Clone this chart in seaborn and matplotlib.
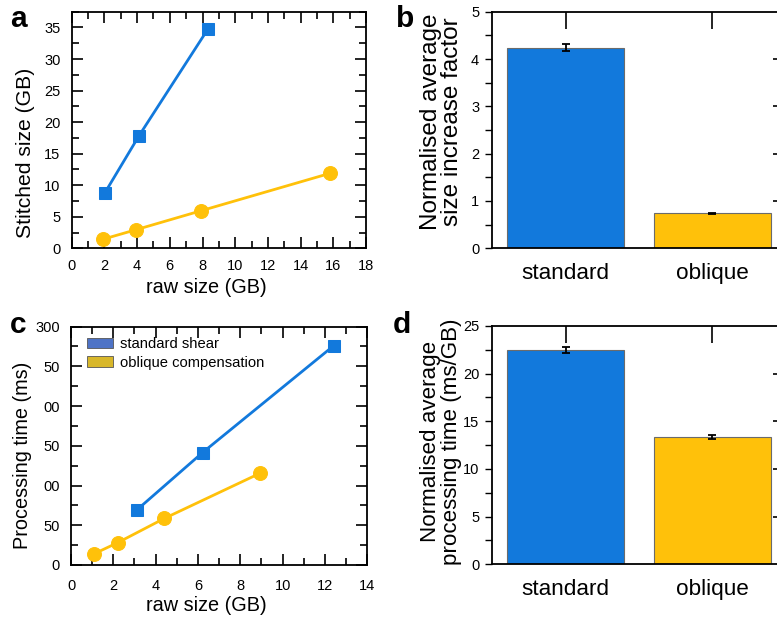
#!/usr/bin/env python3

import numpy as np
import matplotlib
matplotlib.use("Agg")
import matplotlib.pyplot as plt
from matplotlib.patches import Patch
from matplotlib.ticker import MultipleLocator
import seaborn as sns

# --- data ---
# panel a: stitched size vs raw size
raw_std_a = [2.03, 4.12, 8.32]
stitched_std = [8.8, 17.85, 34.7]
raw_obl_a = [1.93, 3.94, 7.91, 15.82]
stitched_obl = [1.45, 2.95, 5.95, 11.9]

# panel b: normalised size increase factor
categories = ["standard", "oblique"]
size_factor = [4.24, 0.745]
size_factor_err = [0.08, 0.01]

# panel c: processing time vs raw size
raw_std_c = [3.1, 6.22, 12.42]
time_std = [69, 141.5, 276]
raw_obl_c = [1.1, 2.2, 4.41, 8.93]
time_obl = [14.2, 28, 58.6, 115.4]
c_yticks = [0, 50, 100, 150, 200, 250, 300]
c_yticklabels = ["0", "50", "00", "50", "00", "50", "300"]

# panel d: normalised processing time
proc_time = [22.48, 13.32]
proc_time_err = [0.35, 0.2]

legend_labels = ["standard shear", "oblique compensation"]

BLUE = "#1279DC"
YELLOW = "#FFC10A"
LEG_BLUE = "#4E73C6"
LEG_YELLOW = "#D8B72A"

sns.set_style("white")
plt.rcParams["font.family"] = ["Liberation Sans", "DejaVu Sans"]
plt.rcParams["text.color"] = "black"
plt.rcParams["axes.labelcolor"] = "black"
plt.rcParams["xtick.color"] = "black"
plt.rcParams["ytick.color"] = "black"
plt.rcParams["axes.edgecolor"] = "black"
plt.rcParams["axes.linewidth"] = 1.3

fig = plt.figure(figsize=(7.77, 6.19), dpi=100)
W, H = 777, 619


def px_axes(left, top, right, bottom):
    return fig.add_axes([left / W, 1 - bottom / H, (right - left) / W, (bottom - top) / H])


ax_a = px_axes(71.7, 11.7, 366, 248.3)
ax_b = px_axes(491.7, 11.7, 781, 248.3)
ax_c = px_axes(71, 326.5, 367.3, 565)
ax_d = px_axes(491.7, 326, 781, 564.3)


def style_line_axes(ax):
    ax.tick_params(which="both", direction="in", top=True, right=True,
                   bottom=True, left=True, labelsize=10.5, pad=8, width=1.2)
    ax.tick_params(which="major", length=8)
    ax.tick_params(which="minor", length=5)


def line_panel(ax, xs1, ys1, xs2, ys2):
    sns.lineplot(x=xs1, y=ys1, ax=ax, color=BLUE, marker="s", markersize=8.5,
                 markeredgecolor=BLUE, linewidth=2)
    sns.lineplot(x=xs2, y=ys2, ax=ax, color=YELLOW, marker="o", markersize=10,
                 markeredgecolor=YELLOW, linewidth=2)


# ---- panel a ----
line_panel(ax_a, raw_std_a, stitched_std, raw_obl_a, stitched_obl)
ax_a.set_xlim(0, 18)
ax_a.set_ylim(0, 37.5)
ax_a.xaxis.set_major_locator(MultipleLocator(2))
ax_a.xaxis.set_minor_locator(MultipleLocator(1))
ax_a.yaxis.set_major_locator(MultipleLocator(5))
ax_a.yaxis.set_minor_locator(MultipleLocator(2.5))
style_line_axes(ax_a)
ax_a.set_xlabel("raw size (GB)", fontsize=14.3)
ax_a.set_ylabel("Stitched size (GB)", fontsize=15.2)
ax_a.xaxis.set_label_coords(0.456, -0.125)
ax_a.yaxis.set_label_coords(-0.125, 0.405)

# ---- panel c ----
line_panel(ax_c, raw_std_c, time_std, raw_obl_c, time_obl)
ax_c.set_xlim(0, 14)
ax_c.set_ylim(0, 300)
ax_c.xaxis.set_major_locator(MultipleLocator(2))
ax_c.xaxis.set_minor_locator(MultipleLocator(1))
ax_c.set_yticks(c_yticks, c_yticklabels)
ax_c.yaxis.set_minor_locator(MultipleLocator(25))
style_line_axes(ax_c)
ax_c.tick_params(axis="x", pad=10)
ax_c.set_xlabel("raw size (GB)", fontsize=14.3)
ax_c.set_ylabel("Processing time (ms)", fontsize=14.3)
ax_c.xaxis.set_label_coords(0.456, -0.13)
ax_c.yaxis.set_label_coords(-0.133, 0.458)
handles = [Patch(facecolor=LEG_BLUE, edgecolor="#555555", linewidth=0.6),
           Patch(facecolor=LEG_YELLOW, edgecolor="#555555", linewidth=0.6)]
ax_c.legend(handles, legend_labels, loc="upper left", bbox_to_anchor=(0.054, 0.955),
            frameon=False, fontsize=10.6, handlelength=1.75, handleheight=0.7,
            handletextpad=0.5, labelspacing=0.3, borderpad=0, borderaxespad=0)


# ---- bar panels ----
def bar_panel(ax, values, errs, ymax, major, minor, ylabel, label_size):
    sns.barplot(x=categories, y=values, hue=categories, palette=[BLUE, YELLOW],
                saturation=1, legend=False, width=0.8, edgecolor="#6b6b6b",
                linewidth=0.8, ax=ax)
    ax.errorbar(x=np.arange(len(values)), y=values, yerr=errs, fmt="none",
                ecolor="black", elinewidth=1.3, capsize=3, capthick=1.3)
    ax.set_xlim(-0.505, 1.469)
    ax.set_ylim(0, ymax)
    ax.yaxis.set_major_locator(MultipleLocator(major))
    ax.yaxis.set_minor_locator(MultipleLocator(minor))
    ax.tick_params(axis="x", which="major", direction="in", top=True, bottom=True,
                   length=12, width=1.2, labelsize=16.2, pad=10.5)
    ax.tick_params(axis="y", which="both", direction="out", left=True, right=False,
                   length=5, width=1.0, labelsize=10.5, pad=4)
    sec = ax.secondary_yaxis("right")
    sec.set_yticks(np.arange(major, ymax, major), [])
    sec.tick_params(direction="in", length=6, width=1.2)
    ax.set_xlabel("")
    ax.set_ylabel(ylabel, fontsize=label_size, linespacing=0.95)


bar_panel(ax_b, size_factor, size_factor_err, 5, 1, 0.5,
          "Normalised average\nsize increase factor", 17.5)
ax_b.yaxis.set_label_coords(-0.098, 0.536)

bar_panel(ax_d, proc_time, proc_time_err, 25, 5, 2.5,
          "Normalised average\nprocessing time (ms/GB)", 16.1)
ax_d.yaxis.set_label_coords(-0.104, 0.515)

# panel letters
for letter, x, y in [("a", 10, 27), ("b", 396, 27), ("c", 10, 333), ("d", 393, 333)]:
    fig.text(x / W, 1 - y / H, letter, fontsize=21.5, fontweight="bold",
             ha="left", va="baseline")

fig.savefig("out.png", dpi=100)
